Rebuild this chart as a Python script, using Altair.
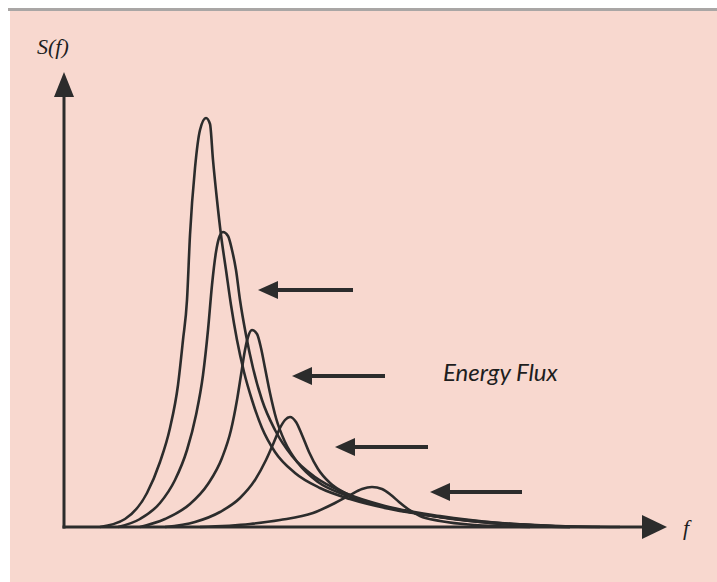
import altair as alt
import pandas as pd

# Growing wind-sea spectra S(f), arbitrary units (f: 0-6, S: 0-4.55)
run1_f = [0.36, 0.61, 0.83, 0.96, 1.06, 1.14, 1.19, 1.23, 1.26, 1.31, 1.36, 1.42,
          1.46, 1.49, 1.53, 1.57, 1.62, 1.67, 1.73, 1.80, 1.88, 1.98, 2.11, 2.31,
          2.56, 2.86, 3.26, 3.76, 4.36, 4.96, 5.56]
run1_s = [0.00, 0.08, 0.34, 0.65, 0.99, 1.42, 1.87, 2.27, 2.92, 3.59, 3.97, 4.09,
          4.03, 3.67, 3.27, 2.92, 2.57, 2.22, 1.87, 1.55, 1.27, 0.99, 0.75, 0.54,
          0.39, 0.28, 0.18, 0.10, 0.04, 0.01, 0.00]

run2_f = [0.54, 0.76, 0.96, 1.11, 1.23, 1.32, 1.39, 1.44, 1.48, 1.52, 1.55, 1.59,
          1.64, 1.68, 1.72, 1.76, 1.82, 1.89, 1.98, 2.11, 2.28, 2.51, 2.81, 3.21,
          3.76, 4.36, 5.06]
run2_s = [0.00, 0.08, 0.24, 0.47, 0.77, 1.12, 1.52, 1.97, 2.42, 2.75, 2.89, 2.95,
          2.91, 2.77, 2.57, 2.27, 1.92, 1.59, 1.27, 0.97, 0.71, 0.50, 0.34, 0.21,
          0.11, 0.04, 0.00]

run3_f = [0.76, 1.01, 1.26, 1.44, 1.58, 1.67, 1.73, 1.77, 1.81, 1.84, 1.88, 1.93,
          1.97, 2.01, 2.06, 2.12, 2.21, 2.34, 2.54, 2.81, 3.21, 3.76, 4.36, 5.06]
run3_s = [0.00, 0.08, 0.23, 0.43, 0.69, 0.97, 1.27, 1.52, 1.77, 1.90, 1.97, 1.93,
          1.79, 1.59, 1.34, 1.09, 0.85, 0.64, 0.45, 0.32, 0.20, 0.10, 0.03, 0.00]

run4_f = [1.01, 1.31, 1.56, 1.76, 1.91, 2.02, 2.10, 2.16, 2.21, 2.26, 2.32, 2.38,
          2.45, 2.54, 2.66, 2.83, 3.11, 3.56, 4.16, 4.86, 5.36]
run4_s = [0.00, 0.05, 0.15, 0.29, 0.47, 0.67, 0.85, 0.99, 1.07, 1.10, 1.05, 0.92,
          0.75, 0.58, 0.44, 0.33, 0.23, 0.13, 0.05, 0.01, 0.00]

run5_f = [1.36, 1.86, 2.16, 2.49, 2.71, 2.86, 2.98, 3.08, 3.18, 3.27, 3.35, 3.44,
          3.56, 3.76, 4.11, 4.66]
run5_s = [0.00, 0.03, 0.07, 0.14, 0.24, 0.32, 0.38, 0.40, 0.38, 0.32, 0.25, 0.18,
          0.11, 0.06, 0.02, 0.00]

# Energy-flux arrows (tail on the right, head pointing to lower f)
arrow_tip_f = [1.94, 2.28, 2.71, 3.66]
arrow_tail_f = [2.89, 3.21, 3.64, 4.58]
arrow_s = [2.37, 1.51, 0.80, 0.35]

# Axis extents
axis_end_f = 6.03
axis_end_s = 4.55

INK = "#2c2c2c"
PINK = "#f8d8cf"

runs = [(run1_f, run1_s), (run2_f, run2_s), (run3_f, run3_s),
        (run4_f, run4_s), (run5_f, run5_s)]
curves = pd.concat(
    [pd.DataFrame({"run": i + 1, "f": f, "s": s}) for i, (f, s) in enumerate(runs)],
    ignore_index=True,
)
arrows = pd.DataFrame({"tip": arrow_tip_f, "tail": arrow_tail_f, "s": arrow_s})

xs = alt.Scale(domain=[0, 6], nice=False, zero=False)
ys = alt.Scale(domain=[0, 4.55], nice=False, zero=False)


def X(field, **kw):
    return alt.X(field, type="quantitative", scale=xs, axis=None, **kw)


def Y(field, **kw):
    return alt.Y(field, type="quantitative", scale=ys, axis=None, **kw)


# page frame: white margin, grey rule along the top, pink panel
panel = alt.Chart(pd.DataFrame({"k": [0]})).mark_rect(color=PINK).encode(
    x=alt.value(-54), x2=alt.value(653), y=alt.value(-61), y2=alt.value(510)
)
top_rule = alt.Chart(pd.DataFrame({"k": [0]})).mark_rect(color="#a9a6a5").encode(
    x=alt.value(-56), x2=alt.value(653), y=alt.value(-64), y2=alt.value(-61)
)

spectra = alt.Chart(curves).mark_line(
    color=INK, strokeWidth=2.6, interpolate="monotone"
).encode(x=X("f"), y=Y("s"), detail="run:N")

# axes with arrowheads
axes_df = pd.DataFrame({"f0": [0.0, 0.0], "s0": [0.0, 0.0],
                        "f1": [0.0, axis_end_f], "s1": [axis_end_s, 0.0]})
axis_lines = alt.Chart(axes_df).transform_calculate(
    f1n="datum.f1 > 0 ? datum.f1 - 0.2 : 0",
    s1n="datum.s1 > 0 ? datum.s1 - 0.2 : 0",
).mark_rule(color=INK, strokeWidth=3, strokeCap="square").encode(
    x=X("f0"), x2="f1n:Q", y=Y("s0"), y2="s1n:Q"
)
head_up = alt.Chart(pd.DataFrame({"f": [0.0], "s": [axis_end_s]})).mark_point(
    shape="M0,0L-1,2.5L1,2.5Z", size=400, filled=True, opacity=1, color=INK
).encode(x=X("f"), y=Y("s"))
head_right = alt.Chart(pd.DataFrame({"f": [axis_end_f], "s": [0.0]})).mark_point(
    shape="M0,0L-2.5,-1.2L-2.5,1.2Z", size=400, filled=True, opacity=1, color=INK
).encode(x=X("f"), y=Y("s"))

arrow_shafts = alt.Chart(arrows).transform_calculate(
    neck="datum.tip + 0.12"
).mark_rule(color=INK, strokeWidth=4, strokeCap="butt").encode(
    x=X("neck:Q"), x2="tail:Q", y=Y("s")
)
arrow_heads = alt.Chart(arrows).mark_point(
    shape="M0,0L2,-0.9L2,0.9Z", size=400, filled=True, opacity=1, color=INK
).encode(x=X("tip"), y=Y("s"))

labels = alt.Chart(pd.DataFrame({
    "f": [-0.27, 6.19],
    "s": [4.73, -0.08],
    "t": ["S(f)", "f"],
})).mark_text(
    font="Liberation Serif", fontStyle="italic", fontSize=22,
    align="left", baseline="alphabetic", color="#1e1e1e"
).encode(x=X("f"), y=Y("s"), text="t:N")

flux = alt.Chart(pd.DataFrame({"f": [3.79], "s": [1.46], "t": ["Energy Flux"]})).mark_text(
    font="Lato", fontStyle="italic", fontSize=24,
    align="left", baseline="alphabetic", color="#1e1e1e"
).encode(x=X("f"), y=Y("s"), text="t:N")

chart = alt.layer(
    panel, top_rule, spectra, axis_lines, head_up, head_right,
    arrow_shafts, arrow_heads, labels, flux
).properties(
    width=600, height=455,
    autosize=alt.AutoSizeParams(type="none"),
    padding={"left": 64, "top": 72, "right": 53, "bottom": 55},
    background="#ffffff",
).configure_view(stroke=None)

chart.save("out.html", embed_options={"renderer": "svg", "actions": False})
